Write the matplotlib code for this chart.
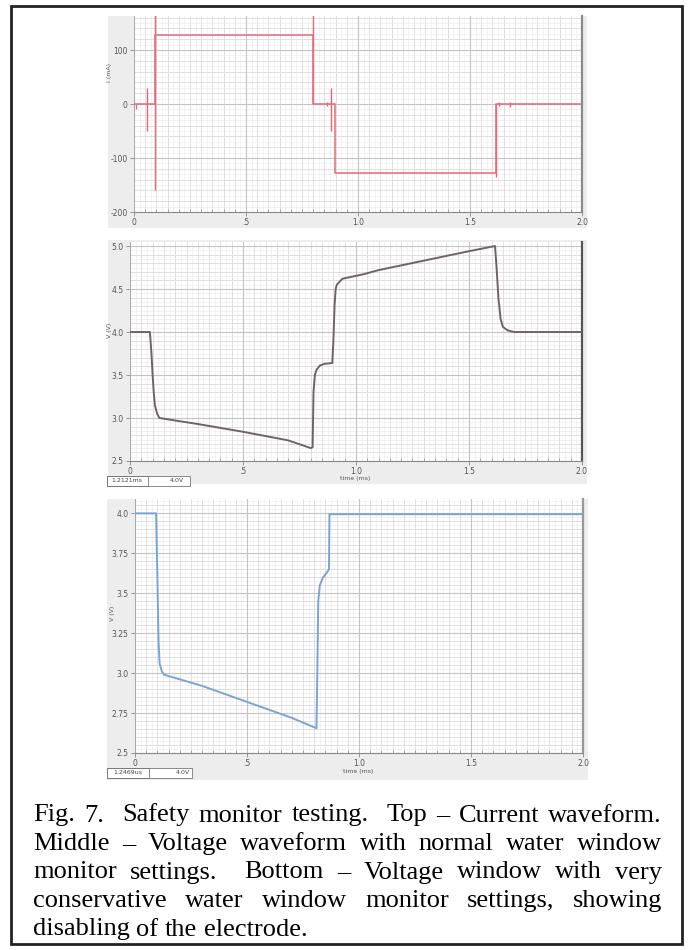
import numpy as np
import matplotlib
matplotlib.use('Agg')
import matplotlib.pyplot as plt
from matplotlib.patches import Rectangle
from matplotlib.ticker import MultipleLocator, FixedLocator

W, H = 689, 950

# top panel: current waveform (mA)
i_time = [0, 0.094, 0.094, 0.80, 0.80, 0.897, 0.897, 1.616, 1.616, 2.0]
i_current = [0, 0, 128, 128, 0, 0, -127, -127, 0, 0]
# short glitches (time, low, high)
glitch_t = [0.010, 0.057, 0.094, 0.80, 0.862, 0.880, 1.616, 1.628, 1.680]
glitch_lo = [-10, -50, -160, 0, -4, -50, -135, -3, -5]
glitch_hi = [0, 30, 175, 175, 4, 30, 0, 3, 3]

# middle panel: voltage with normal monitor settings
v2_time = [0, 0.088, 0.095, 0.10, 0.105, 0.11, 0.12, 0.13, 0.30, 0.50, 0.70, 0.80,
           0.808, 0.812, 0.818, 0.825, 0.84, 0.86, 0.895, 0.90, 0.905, 0.91, 0.915,
           0.94, 1.03, 1.10, 1.30, 1.50, 1.615, 1.622, 1.63, 1.64, 1.65, 1.67, 1.70, 2.0]
v2_volts = [4.0, 4.0, 3.75, 3.5, 3.3, 3.15, 3.05, 3.0, 2.93, 2.84, 2.74, 2.65,
            2.66, 3.3, 3.5, 3.56, 3.61, 3.63, 3.64, 3.9, 4.3, 4.5, 4.55,
            4.62, 4.67, 4.72, 4.83, 4.94, 5.0, 4.75, 4.4, 4.15, 4.06, 4.02, 4.0, 4.0]

# bottom panel: voltage with conservative monitor settings
v3_time = [0, 0.094, 0.10, 0.105, 0.11, 0.12, 0.13, 0.30, 0.50, 0.70, 0.81,
           0.813, 0.818, 0.825, 0.84, 0.857, 0.866, 0.868, 2.0]
v3_volts = [4.0, 4.0, 3.6, 3.2, 3.06, 3.01, 2.99, 2.92, 2.82, 2.72, 2.655,
            2.9, 3.45, 3.55, 3.6, 3.63, 3.65, 3.995, 3.995]

x_ticks = [0, 0.5, 1.0, 1.5, 2.0]
x_labels = ['0', '.5', '1.0', '1.5', '2.0']

caption = [
    "Fig. 7.  Safety monitor testing.  Top \u2013 Current waveform.",
    "Middle \u2013 Voltage waveform with normal water window",
    "monitor settings.  Bottom \u2013 Voltage window with very",
    "conservative water window monitor settings, showing",
    "disabling of the electrode.",
]


def fx(px):
    return px / W


def fy(py):
    return 1 - py / H


def gray_bg(fig, x0, x1, y0, y1):
    fig.add_artist(Rectangle((fx(x0), fy(y1)), fx(x1) - fx(x0), fy(y0) - fy(y1),
                             transform=fig.transFigure, facecolor='#ededed',
                             edgecolor='none', zorder=0))


def make_axes(fig, x0, x1, y0, y1):
    ax = fig.add_axes([fx(x0), fy(y1), fx(x1) - fx(x0), fy(y0) - fy(y1)])
    ax.set_facecolor('white')
    ax.set_zorder(2)
    return ax


def style(ax, ymajor, ymid, yfine, ylim, ylabels, rcolor):
    ax.set_xlim(0, 2.0)
    ax.set_ylim(*ylim)
    # grid levels
    for x in np.arange(0, 2.0001, 0.025):
        ax.axvline(x, color='#f0eded', lw=0.5, zorder=0)
    for y in np.arange(ylim[0], ylim[1], yfine):
        ax.axhline(y, color='#f0eded', lw=0.5, zorder=0)
    for x in np.arange(0, 2.0001, 0.05):
        ax.axvline(x, color='#dedcdc', lw=0.6, zorder=0)
    for y in np.arange(ylim[0], ylim[1], ymid):
        ax.axhline(y, color='#dedcdc', lw=0.6, zorder=0)
    for x in x_ticks:
        ax.axvline(x, color='#c4c4c4', lw=0.8, zorder=0)
    for y in ymajor:
        ax.axhline(y, color='#c4c4c4', lw=0.8, zorder=0)
    ax.xaxis.set_major_locator(FixedLocator(x_ticks))
    ax.set_xticklabels(x_labels)
    ax.xaxis.set_minor_locator(MultipleLocator(0.05))
    ax.yaxis.set_major_locator(FixedLocator(ymajor))
    ax.set_yticklabels(ylabels)
    ax.tick_params(axis='both', which='major', labelsize=5.5, labelcolor='#555555',
                   color='#888888', length=3, width=0.6, pad=1.5)
    ax.tick_params(axis='x', which='minor', direction='in', length=2, color='#999999')
    ax.tick_params(axis='y', which='minor', left=False)
    ax.spines['top'].set_visible(False)
    ax.spines['left'].set_color('#aaaaaa')
    ax.spines['left'].set_linewidth(0.7)
    ax.spines['bottom'].set_color('#888888')
    ax.spines['bottom'].set_linewidth(0.8)
    ax.spines['right'].set_color(rcolor)
    ax.spines['right'].set_linewidth(1.6)


fig = plt.figure(figsize=(W / 100, H / 100), dpi=100)

# outer frame
fig.add_artist(Rectangle((fx(11), fy(944)), fx(682) - fx(11), fy(6) - fy(944),
                         transform=fig.transFigure, facecolor='none',
                         edgecolor='#222222', lw=2, zorder=10))

# top panel
gray_bg(fig, 108, 587, 16, 228)
ax1 = make_axes(fig, 134, 582, 16, 212)
style(ax1, [-200, -100, 0, 100], 20, 10, (-200, 163),
      ['-200', '-100', '0', '100'], '#8a8a8a')
ax1.plot(i_time, i_current, color='#e46a78', lw=1.1, zorder=3)
ax1.vlines(glitch_t, glitch_lo, glitch_hi, color='#e46a78', lw=1.0, zorder=3)
fig.text(fx(110), fy(72), 'I (mA)', rotation=90, fontsize=4.5, color='#555555',
         ha='center', va='center')

# middle panel
gray_bg(fig, 108, 587, 240, 484)
ax2 = make_axes(fig, 130, 582, 242, 461)
style(ax2, [2.5, 3.0, 3.5, 4.0, 4.5, 5.0], 0.1, 0.05, (2.5, 5.047),
      ['2.5', '3.0', '3.5', '4.0', '4.5', '5.0'], '#555555')
ax2.plot(v2_time, v2_volts, color='#6e6466', lw=1.4, zorder=3)
fig.text(fx(110), fy(330), 'V (V)', rotation=90, fontsize=4.5, color='#555555',
         ha='center', va='center')
fig.text(fx(355), fy(479), 'time (ms)', fontsize=4.5, color='#555555',
         ha='center', va='center')
fig.add_artist(Rectangle((fx(107), fy(486)), fx(190) - fx(107), fy(476) - fy(486),
                         transform=fig.transFigure, facecolor='white',
                         edgecolor='#777777', lw=0.6, zorder=3))
fig.add_artist(Rectangle((fx(107), fy(486)), fx(148) - fx(107), fy(476) - fy(486),
                         transform=fig.transFigure, facecolor='none',
                         edgecolor='#777777', lw=0.6, zorder=3))
fig.text(fx(127), fy(481), '1.2121ms', fontsize=4.5, color='#444444',
         ha='center', va='center', zorder=4)
fig.text(fx(177), fy(481), '4.0V', fontsize=4.5, color='#444444',
         ha='center', va='center', zorder=4)

# bottom panel
gray_bg(fig, 107, 588, 499, 780)
ax3 = make_axes(fig, 135, 583, 499, 753)
style(ax3, [2.5, 2.75, 3.0, 3.25, 3.5, 3.75, 4.0], 0.05, 0.025, (2.5, 4.09),
      ['2.5', '2.75', '3.0', '3.25', '3.5', '3.75', '4.0'], '#999999')
ax3.plot(v3_time, v3_volts, color='#7ba4d6', lw=1.4, zorder=3)
fig.text(fx(113), fy(613), 'V (V)', rotation=90, fontsize=4.5, color='#555555',
         ha='center', va='center')
fig.text(fx(358), fy(771), 'time (ms)', fontsize=4.5, color='#555555',
         ha='center', va='center')
fig.add_artist(Rectangle((fx(107), fy(778)), fx(192) - fx(107), fy(768) - fy(778),
                         transform=fig.transFigure, facecolor='white',
                         edgecolor='#777777', lw=0.6, zorder=3))
fig.add_artist(Rectangle((fx(107), fy(778)), fx(149) - fx(107), fy(768) - fy(778),
                         transform=fig.transFigure, facecolor='none',
                         edgecolor='#777777', lw=0.6, zorder=3))
fig.text(fx(128), fy(773), '1.2469us', fontsize=4.5, color='#444444',
         ha='center', va='center', zorder=4)
fig.text(fx(183), fy(773), '4.0V', fontsize=4.5, color='#444444',
         ha='center', va='center', zorder=4)

# caption, justified by hand
renderer = fig.canvas.get_renderer()
left, right = 33, 662
baselines = [821.5, 850, 878.5, 907, 935.5]
for n, line in enumerate(caption):
    parts = line.split(' ')
    words = []
    weights = []
    w = 1
    for p in parts:
        if p == '':
            w += 1
            continue
        words.append(p)
        weights.append(w)
        w = 1
    texts = [fig.text(0, fy(baselines[n]), wd, family='Liberation Serif',
                      fontsize=19, color='black', ha='left', va='baseline')
             for wd in words]
    widths = [t.get_window_extent(renderer).width for t in texts]
    if n < len(caption) - 1:
        unit = (right - left - sum(widths)) / sum(weights[1:])
    else:
        unit = texts[0].get_fontsize() * 100 / 72 * 0.25
    x = left
    for k, t in enumerate(texts):
        if k > 0:
            x += weights[k] * unit
        t.set_x(fx(x))
        x += widths[k]

fig.savefig('out.png', dpi=100)
